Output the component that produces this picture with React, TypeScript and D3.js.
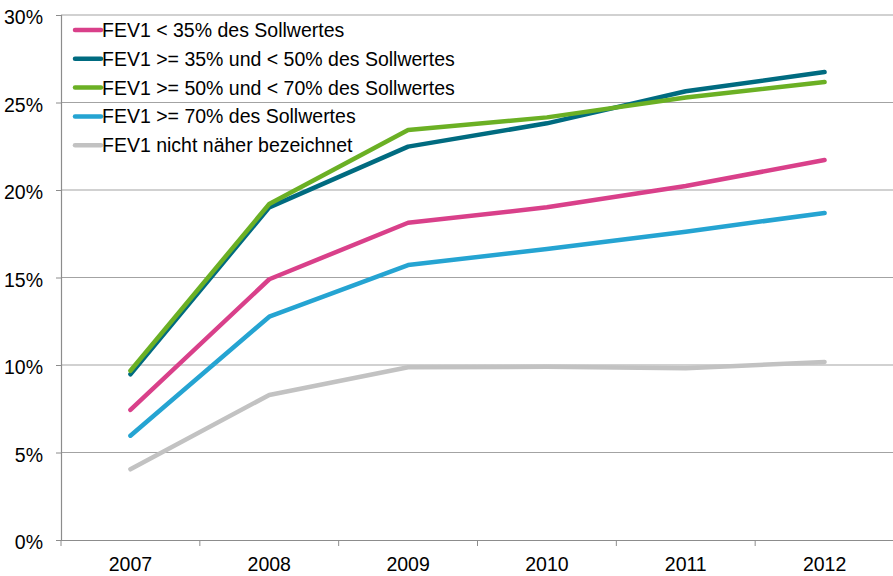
import { useEffect, useRef } from 'react';
import * as d3 from 'd3';

const years = ['2007', '2008', '2009', '2010', '2011', '2012'];
const seriesNames = [
  'FEV1 < 35% des Sollwertes',
  'FEV1 >= 35% und < 50% des Sollwertes',
  'FEV1 >= 50% und < 70% des Sollwertes',
  'FEV1 >= 70% des Sollwertes',
  'FEV1 nicht näher bezeichnet',
];
const seriesColors = ['#d9408a', '#006b80', '#6bb024', '#25a4d2', '#c2c2c2'];
const under35 = [7.43, 14.9, 18.13, 19.01, 20.23, 21.71];
const from35to50 = [9.47, 19.01, 22.48, 23.81, 25.64, 26.74];
const from50to70 = [9.67, 19.2, 23.43, 24.15, 25.28, 26.17];
const over70 = [5.96, 12.76, 15.71, 16.63, 17.62, 18.69];
const unspecified = [4.04, 8.29, 9.87, 9.9, 9.81, 10.17];
const yTicks = [0, 5, 10, 15, 20, 25, 30];

const W = 893;
const H = 576;

export default function App() {
  const svgRef = useRef<SVGSVGElement>(null);

  useEffect(() => {
    const svg = d3.select(svgRef.current);
    svg.selectAll('*').remove();

    const left = 61, right = 894, top = 15, bottom = 540;
    const font = 'Liberation Sans, Arial, sans-serif';
    const fs = 19.5;

    const x = d3.scaleBand<string>().domain(years).range([left, right]);
    const y = d3.scaleLinear().domain([0, 30]).range([bottom, top]);

    // gridlines
    svg.append('g')
      .selectAll('line')
      .data(yTicks.slice(1))
      .join('line')
      .attr('x1', left).attr('x2', W)
      .attr('y1', (d) => y(d)).attr('y2', (d) => y(d))
      .attr('stroke', '#a3a3a3').attr('stroke-width', 1.2);

    // y axis
    const yAxis = svg.append('g')
      .attr('transform', `translate(${left},0)`)
      .call(d3.axisLeft(y).tickValues(yTicks).tickSize(5).tickPadding(13).tickFormat((d) => `${d}%`));
    yAxis.select('.domain').attr('stroke', '#8c8c8c').attr('stroke-width', 1.2);
    yAxis.selectAll('.tick line').attr('stroke', '#8c8c8c');
    yAxis.selectAll('text')
      .attr('font-family', font).attr('font-size', fs).attr('fill', '#000')
      .attr('dy', '0.45em');

    // x axis
    const xAxis = svg.append('g')
      .attr('transform', `translate(0,${bottom})`)
      .call(d3.axisBottom(x).tickSize(0).tickPadding(17));
    xAxis.select('.domain').attr('stroke', '#8c8c8c').attr('stroke-width', 1.2);
    xAxis.selectAll('text').attr('font-family', font).attr('font-size', fs).attr('fill', '#000');
    xAxis.selectAll('line.sep')
      .data(d3.range(years.length + 1))
      .join('line')
      .attr('class', 'sep')
      .attr('x1', (i) => left + i * x.bandwidth()).attr('x2', (i) => left + i * x.bandwidth())
      .attr('y1', 0).attr('y2', 6)
      .attr('stroke', '#8c8c8c');

    const data = [under35, from35to50, from50to70, over70, unspecified];
    const line = d3.line<number>()
      .x((_, i) => (x(years[i]) as number) + x.bandwidth() / 2)
      .y((d) => y(d));

    const order = [4, 3, 0, 1, 2];
    order.forEach((k) => {
      svg.append('path')
        .datum(data[k])
        .attr('d', line)
        .attr('fill', 'none')
        .attr('stroke', seriesColors[k])
        .attr('stroke-width', 4.5)
        .attr('stroke-linecap', 'round')
        .attr('stroke-linejoin', 'round');
    });

    // legend entries
    const legend = svg.append('g');
    seriesNames.forEach((name, i) => {
      const cy = 30 + i * 28.8;
      legend.append('line')
        .attr('x1', 75).attr('x2', 101)
        .attr('y1', cy).attr('y2', cy)
        .attr('stroke', seriesColors[i]).attr('stroke-width', 4.5)
        .attr('stroke-linecap', 'round');
      legend.append('text')
        .attr('x', 102).attr('y', cy + 7)
        .attr('font-family', font).attr('font-size', fs)
        .attr('fill', '#000')
        .text(name);
    });
  }, []);

  return (
    <svg
      ref={svgRef}
      width={W}
      height={H}
      style={{ position: 'absolute', left: 0, top: 0, background: '#fff' }}
    />
  );
}
